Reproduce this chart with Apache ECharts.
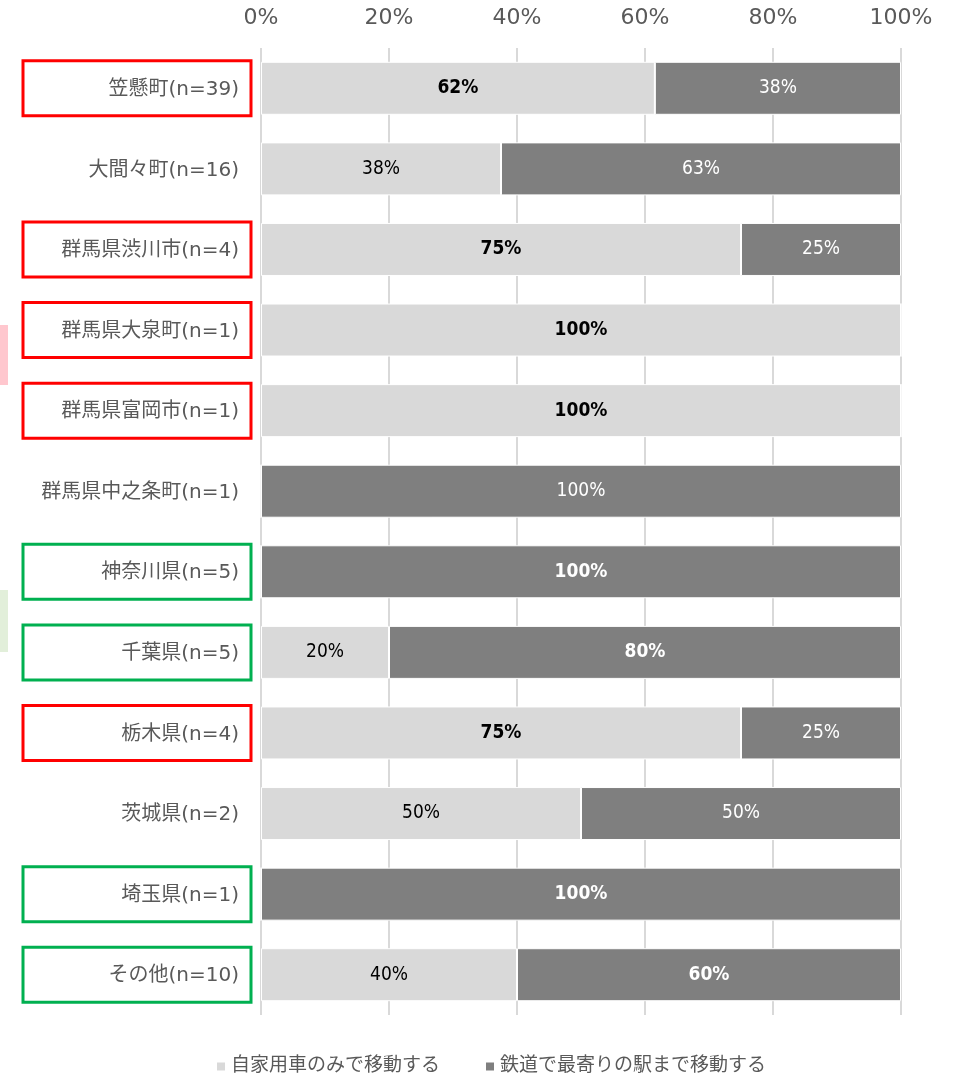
<!DOCTYPE html>
<html>
<head>
<meta charset="utf-8">
<script src="https://cdn.jsdelivr.net/npm/echarts@6/dist/echarts.min.js"></script>
<style>
  html, body { margin: 0; padding: 0; background: #fff; }
  #chart { width: 953px; height: 1075px; }
</style>
</head>
<body>
<div id="chart"></div>
<script>
// Regions surveyed (top to bottom)
const categories = [
  '笠懸町(n=39)', '大間々町(n=16)', '群馬県渋川市(n=4)', '群馬県大泉町(n=1)',
  '群馬県富岡市(n=1)', '群馬県中之条町(n=1)', '神奈川県(n=5)', '千葉県(n=5)',
  '栃木県(n=4)', '茨城県(n=2)', '埼玉県(n=1)', 'その他(n=10)'
];
// Share (%) travelling by private car only
const carOnly = [61.54, 37.5, 75, 100, 100, 0, 0, 20, 75, 50, 0, 40];
// Share (%) travelling by rail to the nearest station
const byRail = [38.46, 62.5, 25, 0, 0, 100, 100, 80, 25, 50, 100, 60];
// Highlight frame for each category label: 'r' red, 'g' green, '' none
const frames = ['r', '', 'r', 'r', 'r', '', 'g', 'g', 'r', '', 'g', 'g'];
const xTicks = [0, 20, 40, 60, 80, 100];
const seriesNames = ['自家用車のみで移動する', '鉄道で最寄りの駅まで移動する'];

const jpFont = '"DejaVu Sans", "Noto Sans CJK JP", sans-serif';
const numFont = '"DejaVu Sans Condensed", "Liberation Sans Narrow", "Roboto", sans-serif';

function items(values, boldFrame) {
  return values.map((v, i) => ({
    value: v,
    label: { fontWeight: frames[i] === boldFrame ? 'bold' : 'normal' }
  }));
}

const labelBox = {
  width: 216, height: 52, align: 'right', padding: [3, 12, 0, 0],
  fontSize: 20, color: '#595959', fontFamily: jpFont
};

const chart = echarts.init(document.getElementById('chart'));
chart.setOption({
  animation: false,
  grid: { left: 261, right: 52, top: 48, bottom: 60, containLabel: false },
  legend: {
    top: 1052, left: 210,
    itemWidth: 10, itemHeight: 10, itemGap: 44, icon: 'rect',
    textStyle: { fontSize: 19, color: '#595959', fontFamily: jpFont },
    data: seriesNames
  },
  xAxis: {
    type: 'value', position: 'top', min: 0, max: 100, interval: 20,
    axisLine: { show: false }, axisTick: { show: false },
    splitLine: { show: true, lineStyle: { color: '#d9d9d9', width: 2 } },
    axisLabel: {
      margin: 19, fontSize: 22, color: '#595959', fontFamily: jpFont,
      formatter: v => xTicks.includes(v) ? v + '%' : ''
    }
  },
  yAxis: {
    type: 'category', inverse: true, data: categories,
    axisLine: { show: false }, axisTick: { show: false },
    axisLabel: {
      margin: 10,
      formatter: (v, i) => {
        const k = frames[i] === 'r' ? 'r' : frames[i] === 'g' ? 'g' : 'n';
        return '{' + k + '|' + v + '}';
      },
      rich: {
        n: Object.assign({}, labelBox),
        r: Object.assign({}, labelBox, { borderColor: '#ff0000', borderWidth: 3 }),
        g: Object.assign({}, labelBox, { borderColor: '#00b050', borderWidth: 3 })
      }
    }
  },
  series: [
    {
      name: seriesNames[0], type: 'bar', stack: 'total', barWidth: 53,
      itemStyle: { color: '#d9d9d9', borderColor: '#ffffff', borderWidth: 1 },
      label: {
        show: true, position: 'inside', color: '#000000',
        fontSize: 19, fontFamily: numFont,
        formatter: p => p.value > 0 ? Math.round(p.value) + '%' : ''
      },
      data: items(carOnly, 'r')
    },
    {
      name: seriesNames[1], type: 'bar', stack: 'total', barWidth: 53,
      itemStyle: { color: '#7f7f7f', borderColor: '#ffffff', borderWidth: 1 },
      label: {
        show: true, position: 'inside', color: '#ffffff',
        fontSize: 19, fontFamily: numFont,
        formatter: p => p.value > 0 ? Math.round(p.value) + '%' : ''
      },
      data: items(byRail, 'g')
    }
  ],
  graphic: [
    { type: 'rect', left: 0, top: 325, shape: { width: 8, height: 60 }, style: { fill: '#ffc7ce' } },
    { type: 'rect', left: 0, top: 590, shape: { width: 8, height: 62 }, style: { fill: '#e2efda' } }
  ]
});
</script>
</body>
</html>
